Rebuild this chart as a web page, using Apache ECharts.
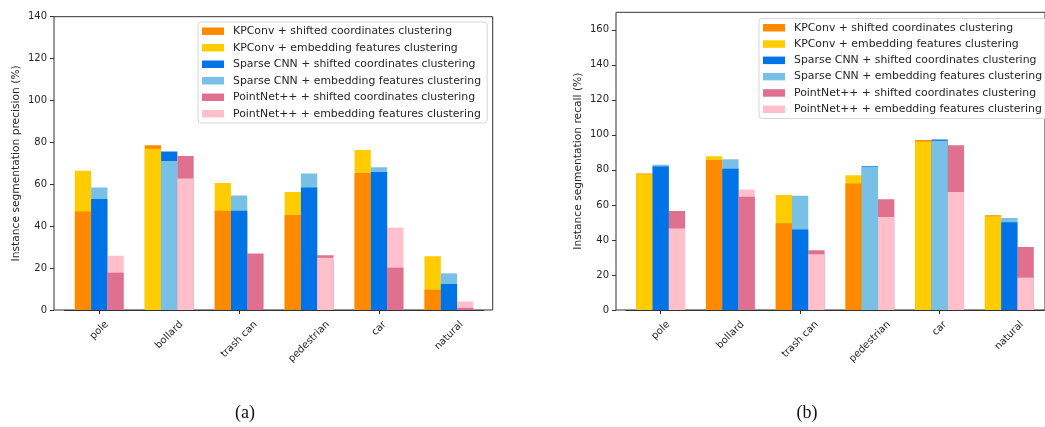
<!DOCTYPE html>
<html>
<head>
<meta charset="utf-8">
<script src="https://cdn.jsdelivr.net/npm/echarts@6/dist/echarts.min.js"></script>
<style>
  html, body { margin: 0; padding: 0; background: #ffffff; }
  #chart { width: 1045px; height: 427px; }
</style>
</head>
<body>
<div id="chart"></div>
<script>
// Object classes on the x axis
const categories = ['pole', 'bollard', 'trash can', 'pedestrian', 'car', 'natural'];

// Legend entries (model + clustering strategy)
const seriesNames = [
  'KPConv + shifted coordinates clustering',
  'KPConv + embedding features clustering',
  'Sparse CNN + shifted coordinates clustering',
  'Sparse CNN + embedding features clustering',
  'PointNet++ + shifted coordinates clustering',
  'PointNet++ + embedding features clustering'
];
const seriesColors = ['#FF8A00', '#FFCC00', '#0073E6', '#78C0E6', '#E07090', '#FFC0CB'];

// (a) instance segmentation precision (%)
const kpconvShiftPrecision   = [47.0, 78.6, 47.4, 45.3, 65.4, 9.7];
const kpconvEmbedPrecision   = [66.5, 77.0, 60.6, 56.3, 76.4, 25.6];
const sparseShiftPrecision   = [53.0, 75.7, 47.4, 58.5, 65.9, 12.4];
const sparseEmbedPrecision   = [58.5, 71.1, 54.6, 65.1, 68.1, 17.5];
const pointnetShiftPrecision = [17.8, 73.5, 27.0, 26.1, 20.2, 1.0];
const pointnetEmbedPrecision = [25.9, 62.8, 0.0, 25.0, 39.3, 4.1];

// (b) instance segmentation recall (%)
const kpconvShiftRecall   = [78.0, 85.7, 49.5, 72.2, 97.1, 54.1];
const kpconvEmbedRecall   = [77.5, 87.8, 65.7, 77.0, 96.2, 53.5];
const sparseShiftRecall   = [81.9, 80.6, 45.9, 82.3, 97.3, 50.1];
const sparseEmbedRecall   = [82.9, 86.1, 65.3, 81.9, 96.6, 52.6];
const pointnetShiftRecall = [56.6, 64.6, 34.1, 63.2, 94.1, 36.0];
const pointnetEmbedRecall = [46.5, 68.8, 31.8, 53.1, 67.4, 18.5];

// Y tick labels
const precisionTicks = [0, 20, 40, 60, 80, 100, 120, 140];
const recallTicks = [0, 20, 40, 60, 80, 100, 120, 140, 160];

const TEXT = '#262626';
const FONT = 'DejaVu Sans';
const LABEL_FONT = '10px "' + FONT + '"';

const measureCtx = document.createElement('canvas').getContext('2d');
measureCtx.font = LABEL_FONT;

// Each model's two results share one slot: the larger is drawn behind, the smaller in front.
function layers(shift, embed, shiftColor, embedColor) {
  const back = [], front = [];
  for (let i = 0; i < shift.length; i++) {
    const shiftBigger = shift[i] >= embed[i];
    back.push({ value: shiftBigger ? shift[i] : embed[i], itemStyle: { color: shiftBigger ? shiftColor : embedColor } });
    front.push({ value: shiftBigger ? embed[i] : shift[i], itemStyle: { color: shiftBigger ? embedColor : shiftColor } });
  }
  return { back: back, front: front };
}

// Category names rotated 45 degrees, each centred under its tick,
// with the top of its rotated box just below the tick marks.
function renderCategoryLabel(params, api) {
  const i = api.value(0);
  const pt = api.coord([i, 0]);
  const name = categories[i];
  const w = measureCtx.measureText(name).width;
  const halfExtent = 0.3536 * (w + 11);
  return {
    type: 'text',
    x: pt[0],
    y: pt[1] + 9 + halfExtent,
    rotation: Math.PI / 4,
    style: { text: name, align: 'center', verticalAlign: 'middle', fill: TEXT, font: LABEL_FONT }
  };
}

const option = {
  animation: false,
  backgroundColor: '#ffffff',
  textStyle: { fontFamily: FONT },
  grid: [], xAxis: [], yAxis: [], series: [], legend: [],
  graphic: [
    { type: 'text', x: 245, y: 413, style: { text: '(a)', font: '18px "Liberation Serif"', fill: '#111', align: 'center', verticalAlign: 'middle' } },
    { type: 'text', x: 807, y: 413, style: { text: '(b)', font: '18px "Liberation Serif"', fill: '#111', align: 'center', verticalAlign: 'middle' } }
  ]
};

function addPanel(cfg) {
  const gFrame = option.grid.length;
  option.grid.push({ left: cfg.frame[0], top: cfg.frame[1], width: cfg.frame[2], height: cfg.frame[3],
    show: true, borderColor: '#333', borderWidth: 1, backgroundColor: 'transparent' });
  option.grid.push({ left: cfg.bars[0], top: cfg.frame[1], width: cfg.bars[1], height: cfg.frame[3] });

  const xFrame = option.xAxis.length;
  option.xAxis.push({ type: 'value', gridIndex: gFrame, show: false, min: 0, max: 1 });
  const xBack = option.xAxis.length;
  option.xAxis.push({
    type: 'category', gridIndex: gFrame + 1, data: categories, z: 10,
    axisLine: { show: true, lineStyle: { color: '#333', width: 1 } },
    axisTick: { show: true, alignWithLabel: true, length: 4, lineStyle: { color: '#333' } },
    axisLabel: { show: false }
  });
  const xFront = option.xAxis.length;
  option.xAxis.push({ type: 'category', gridIndex: gFrame + 1, data: categories, show: false });

  const yFrame = option.yAxis.length;
  option.yAxis.push({
    type: 'value', gridIndex: gFrame, min: 0, max: cfg.max, interval: 20,
    name: cfg.title, nameLocation: 'middle', nameGap: cfg.nameGap,
    nameTextStyle: { fontSize: 10.7, color: TEXT, fontFamily: FONT },
    axisLine: { show: false }, splitLine: { show: false },
    axisTick: { show: true, length: 4, lineStyle: { color: '#333' }, customValues: cfg.ticks },
    axisLabel: { fontSize: 10, color: TEXT, margin: 7, fontFamily: FONT, customValues: cfg.ticks }
  });
  const yBars = option.yAxis.length;
  option.yAxis.push({ type: 'value', gridIndex: gFrame + 1, min: 0, max: cfg.max, show: false });

  for (let m = 0; m < 3; m++) {
    const L = layers(cfg.data[2 * m], cfg.data[2 * m + 1], seriesColors[2 * m], seriesColors[2 * m + 1]);
    option.series.push({ type: 'bar', xAxisIndex: xBack, yAxisIndex: yBars, data: L.back,
      barWidth: 16.3, barGap: '0%', z: 2, silent: true });
    option.series.push({ type: 'bar', xAxisIndex: xFront, yAxisIndex: yBars, data: L.front,
      barWidth: 16.3, barGap: '0%', z: 3, silent: true });
  }
  // tick labels under the category axis
  option.series.push({
    type: 'custom', xAxisIndex: xBack, yAxisIndex: yBars, clip: false, silent: true, z: 5,
    data: categories.map(function (c, i) { return [i, 0]; }),
    renderItem: renderCategoryLabel
  });
  // legend entries
  seriesNames.forEach(function (name, i) {
    option.series.push({ type: 'bar', name: name, xAxisIndex: xFrame, yAxisIndex: yFrame, data: [],
      itemStyle: { color: seriesColors[i] } });
  });
  option.legend.push({
    orient: 'vertical', left: cfg.legend[0], top: cfg.legend[1], icon: 'rect',
    itemWidth: 22, itemHeight: 7.5, itemGap: cfg.legendGap,
    padding: [3, 6, 3, 4], backgroundColor: 'rgba(255,255,255,0.85)',
    borderColor: '#d6d6d6', borderWidth: 1, borderRadius: 3,
    textStyle: { fontSize: 10.9, color: TEXT, fontFamily: FONT, lineHeight: 12.5, padding: [0, 0, 0, 4] },
    data: seriesNames, selectedMode: false
  });
}

addPanel({
  frame: [54, 16.7, 438.7, 293.3], bars: [64.3, 419.6], max: 140, ticks: precisionTicks,
  title: 'Instance segmentation precision (%)', nameGap: 32,
  legend: [198, 22], legendGap: 4,
  data: [kpconvShiftPrecision, kpconvEmbedPrecision, sparseShiftPrecision, sparseEmbedPrecision,
         pointnetShiftPrecision, pointnetEmbedPrecision]
});
addPanel({
  frame: [616, 12.3, 437, 297.7], bars: [625.8, 418.4], max: 170, ticks: recallTicks,
  title: 'Instance segmentation recall (%)', nameGap: 32,
  legend: [759, 18.5], legendGap: 3.8,
  data: [kpconvShiftRecall, kpconvEmbedRecall, sparseShiftRecall, sparseEmbedRecall,
         pointnetShiftRecall, pointnetEmbedRecall]
});

const chart = echarts.init(document.getElementById('chart'), null, { renderer: 'canvas' });
chart.setOption(option);
</script>
</body>
</html>
